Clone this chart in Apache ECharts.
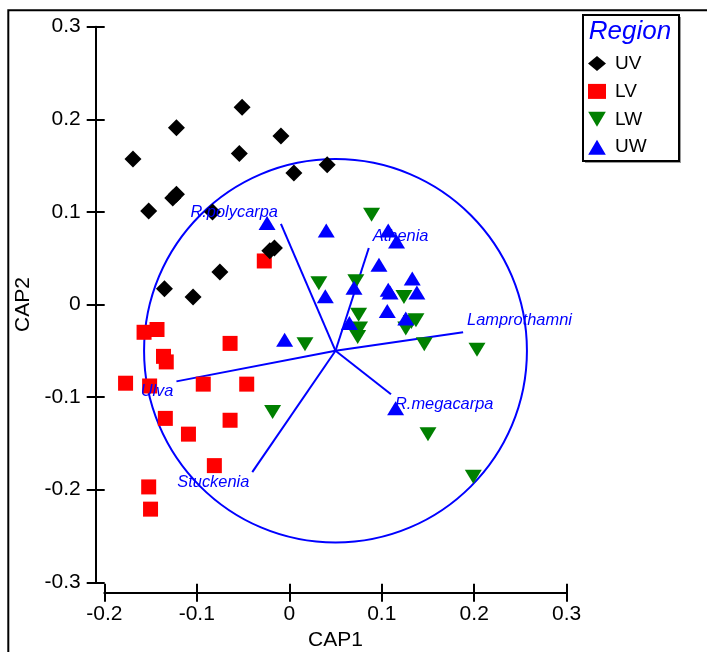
<!DOCTYPE html>
<html>
<head>
<meta charset="utf-8">
<script src="https://cdn.jsdelivr.net/npm/echarts@6/dist/echarts.min.js"></script>
<style>
  html, body { margin: 0; padding: 0; background: #fff; }
  #chart { width: 707px; height: 652px; }
</style>
</head>
<body>
<div id="chart"></div>
<script>
// Axis ranges and tick labels
const X_MIN = -0.2, X_MAX = 0.3, X_STEP = 0.1;
const Y_MIN = -0.3, Y_MAX = 0.3, Y_STEP = 0.1;
const xTickLabels = ['-0.2', '-0.1', '0', '0.1', '0.2', '0.3'];
const yTickLabels = ['-0.3', '-0.2', '-0.1', '0', '0.1', '0.2', '0.3'];

// Sample scores on CAP1 / CAP2, one list per region
const regionNames = ['UV', 'LV', 'LW', 'UW'];
const uv = [
  [-0.169, 0.157], [-0.122, 0.191], [-0.051, 0.213], [-0.009, 0.182],
  [-0.054, 0.163], [-0.126, 0.115], [-0.122, 0.119], [-0.152, 0.101],
  [-0.083, 0.100], [0.005, 0.142], [0.041, 0.151], [-0.021, 0.058],
  [-0.016, 0.061], [-0.075, 0.035], [-0.135, 0.017], [-0.104, 0.008]
];
const lv = [
  [-0.027, 0.047], [-0.157, -0.030], [-0.143, -0.027], [-0.136, -0.056],
  [-0.133, -0.062], [-0.064, -0.042], [-0.177, -0.085], [-0.151, -0.088],
  [-0.093, -0.086], [-0.046, -0.086], [-0.134, -0.123], [-0.064, -0.125],
  [-0.109, -0.140], [-0.081, -0.174], [-0.152, -0.197], [-0.150, -0.221]
];
const lw = [
  [0.089, 0.097], [0.032, 0.023], [0.072, 0.025], [0.124, 0.008],
  [0.075, -0.011], [0.076, -0.026], [0.074, -0.035], [0.017, -0.043],
  [0.126, -0.026], [0.132, -0.019], [0.137, -0.017], [0.146, -0.043],
  [0.203, -0.049], [-0.018, -0.116], [0.150, -0.140], [0.199, -0.186]
];
const uw = [
  [-0.024, 0.088], [0.040, 0.080], [0.107, 0.080], [0.116, 0.068],
  [0.097, 0.043], [0.070, 0.018], [0.039, 0.009], [0.107, 0.016],
  [0.109, 0.013], [0.133, 0.028], [0.138, 0.013], [0.106, -0.007],
  [0.126, -0.015], [0.065, -0.020], [-0.005, -0.038], [0.115, -0.112]
];

// Species vectors: common origin, end points, and the correlation circle
const vectorOrigin = [0.05, -0.05];
const vectorNames = ['R.polycarpa', 'Athenia', 'Lamprothamni', 'R.megacarpa', 'Ulva', 'Stuckenia'];
const vectorEnds = [
  [-0.009, 0.087], [0.086, 0.061], [0.188, -0.030],
  [0.110, -0.097], [-0.122, -0.083], [-0.040, -0.181]
];
const circle = [[0.05, -0.05, 0.207]];

const BLUE = '#0000ff';
const FONT = '"Liberation Sans", Arial, sans-serif';
const downTriangle = 'path://M0,0 L20,0 L10,17 Z';
const upTriangle = 'path://M10,0 L20,17 L0,17 Z';

const chart = echarts.init(document.getElementById('chart'));

function tickFmt(labels, min, step) {
  return v => labels[Math.round((v - min) / step)] || '';
}

const tickStyle = { color: '#000', width: 2 };

// Each axis is drawn twice: once with outward ticks and labels,
// once with inward ticks only, so the ticks cross the axis line.
const option = {
  animation: false,
  backgroundColor: '#fff',
  grid: { left: 104.3, right: 140.3, top: 26.7, bottom: 69.7, outerBoundsMode: 'none' },
  xAxis: [
    {
      type: 'value', min: X_MIN, max: X_MAX, interval: X_STEP,
      position: 'bottom', offset: 10.4,
      axisLine: { show: true, onZero: false, lineStyle: { color: '#000', width: 2 } },
      axisTick: { show: true, length: 9, lineStyle: tickStyle },
      splitLine: { show: false },
      name: 'CAP1', nameLocation: 'middle', nameGap: 37,
      nameTextStyle: { fontFamily: FONT, fontSize: 21, color: '#000' },
      axisLabel: { margin: 11, fontFamily: FONT, fontSize: 21, color: '#000',
        formatter: tickFmt(xTickLabels, X_MIN, X_STEP) }
    },
    {
      type: 'value', min: X_MIN, max: X_MAX, interval: X_STEP,
      position: 'bottom', offset: 10.4,
      axisLine: { show: false, onZero: false }, axisLabel: { show: false }, splitLine: { show: false },
      axisTick: { show: true, inside: true, length: 9, lineStyle: tickStyle }
    }
  ],
  yAxis: [
    {
      type: 'value', min: Y_MIN, max: Y_MAX, interval: Y_STEP,
      position: 'left', offset: 8.6,
      axisLine: { show: true, onZero: false, lineStyle: { color: '#000', width: 2 } },
      axisTick: { show: true, length: 9, lineStyle: tickStyle },
      splitLine: { show: false },
      name: 'CAP2', nameLocation: 'middle', nameGap: 62,
      nameTextStyle: { fontFamily: FONT, fontSize: 21, color: '#000' },
      axisLabel: { margin: 15, fontFamily: FONT, fontSize: 21, color: '#000',
        formatter: tickFmt(yTickLabels, Y_MIN, Y_STEP) }
    },
    {
      type: 'value', min: Y_MIN, max: Y_MAX, interval: Y_STEP,
      position: 'left', offset: 8.6,
      axisLine: { show: false, onZero: false }, axisLabel: { show: false }, splitLine: { show: false },
      axisTick: { show: true, inside: true, length: 9, lineStyle: tickStyle }
    }
  ],
  legend: {
    data: regionNames,
    orient: 'vertical',
    left: 588, top: 54,
    padding: 0,
    itemWidth: 18, itemHeight: 15, itemGap: 8.9,
    textStyle: { fontFamily: FONT, fontSize: 19, color: '#000', padding: [0, 0, 0, 4] },
    selectedMode: false
  },
  graphic: [
    // outer frame
    { type: 'rect', z: 0, shape: { x: 8.3, y: 10.3, width: 760, height: 700 },
      style: { fill: null, stroke: '#000', lineWidth: 2 } },
    // legend box with a soft drop shadow
    { type: 'rect', z: 0, shape: { x: 585, y: 17, width: 96, height: 146 },
      style: { fill: '#9a9a9a', stroke: null } },
    { type: 'rect', z: 1, shape: { x: 583, y: 15, width: 96, height: 146 },
      style: { fill: '#fff', stroke: '#000', lineWidth: 2 } },
    { type: 'text', z: 2, x: 630, y: 32,
      style: { text: 'Region', fill: BLUE, font: 'italic 26px ' + FONT, align: 'center', verticalAlign: 'middle' } }
  ],
  series: [
    {
      type: 'custom', z: 1, silent: true, xAxisIndex: 0, yAxisIndex: 0,
      data: circle,
      renderItem: (params, api) => {
        const c = api.coord([api.value(0), api.value(1)]);
        const r = api.value(2);
        const rx = api.size([r, 0])[0];
        const ry = api.size([0, r])[1];
        return { type: 'ellipse', shape: { cx: c[0], cy: c[1], rx: rx, ry: ry },
          style: { fill: null, stroke: BLUE, lineWidth: 2 } };
      }
    },
    {
      type: 'custom', z: 1, silent: true, xAxisIndex: 0, yAxisIndex: 0,
      data: vectorEnds,
      renderItem: (params, api) => {
        const s = api.coord(vectorOrigin);
        const e = api.coord([api.value(0), api.value(1)]);
        return { type: 'line', shape: { x1: s[0], y1: s[1], x2: e[0], y2: e[1] },
          style: { stroke: BLUE, lineWidth: 2 } };
      }
    },
    { name: 'LV', type: 'scatter', z: 2, data: lv, symbol: 'rect', symbolSize: 15,
      itemStyle: { color: '#ff0000', opacity: 1 } },
    { name: 'UV', type: 'scatter', z: 2, data: uv, symbol: 'diamond', symbolSize: 17,
      itemStyle: { color: '#000000', opacity: 1 } },
    { name: 'LW', type: 'scatter', z: 2, data: lw, symbol: downTriangle, symbolSize: [17, 14],
      itemStyle: { color: '#008000', opacity: 1 } },
    { name: 'UW', type: 'scatter', z: 2, data: uw, symbol: upTriangle, symbolSize: [17, 14],
      itemStyle: { color: '#0000ff', opacity: 1 } },
    {
      type: 'custom', z: 3, silent: true, xAxisIndex: 0, yAxisIndex: 0,
      data: vectorEnds,
      renderItem: (params, api) => {
        const x = api.value(0), y = api.value(1);
        const e = api.coord([x, y]);
        const toRight = x >= vectorOrigin[0];
        const up = y >= vectorOrigin[1];
        return { type: 'text', x: e[0] + (toRight ? 4 : -3), y: e[1] + (up ? -12 : 10),
          style: { text: vectorNames[params.dataIndex], fill: BLUE,
            font: 'italic 16.4px ' + FONT,
            align: toRight ? 'left' : 'right', verticalAlign: 'middle' } };
      }
    }
  ]
};

chart.setOption(option);
</script>
</body>
</html>
